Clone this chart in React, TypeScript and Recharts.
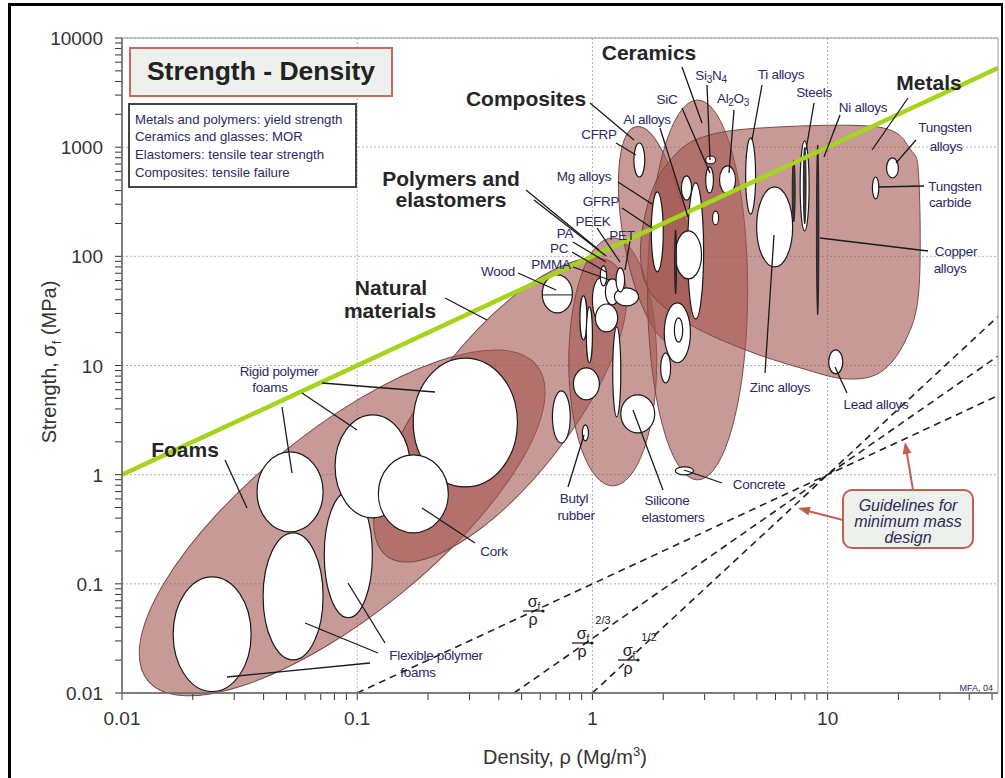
import React from 'react';
import { ScatterChart, Scatter, XAxis, YAxis, CartesianGrid, ReferenceArea, ReferenceLine } from 'recharts';

const FONT = '"Liberation Sans", Arial, Helvetica, sans-serif';

// ---------- axes ----------
const densityDomain: [number, number] = [0.01, 53];
const strengthDomain: [number, number] = [0.01, 10000];
const densityTicks = [0.01, 0.02, 0.03, 0.04, 0.05, 0.06, 0.07, 0.08, 0.09, 0.1, 0.2, 0.3, 0.4, 0.5, 0.6, 0.7, 0.8, 0.9, 1, 2, 3, 4, 5, 6, 7, 8, 9, 10, 20, 30, 40, 50];
const strengthTicks = [
  0.01, 0.02, 0.03, 0.04, 0.05, 0.06, 0.07, 0.08, 0.09,
  0.1, 0.2, 0.3, 0.4, 0.5, 0.6, 0.7, 0.8, 0.9,
  1, 2, 3, 4, 5, 6, 7, 8, 9,
  10, 20, 30, 40, 50, 60, 70, 80, 90,
  100, 200, 300, 400, 500, 600, 700, 800, 900,
  1000, 2000, 3000, 4000, 5000, 6000, 7000, 8000, 9000, 10000,
];
const densityGrid = [0.01, 0.1, 1, 10];
const strengthGrid = [0.01, 0.1, 1, 10, 100, 1000, 10000];
const densityTickLabels = ['0.01', '0.1', '1', '10'];
const strengthTickLabels = ['0.01', '0.1', '1', '10', '100', '1000', '10000'];

// ---------- family envelopes (centre density, centre strength, half-span in decades) ----------
const envelopeFamilies = ['Foams', 'Natural materials', 'Polymers and elastomers', 'Composites', 'Ceramics'];
const envelopeDensity = [0.0863, 0.406, 1.22, 1.85, 2.8];
const envelopeStrength = [0.362, 3.92, 10.8, 157, 49.2];
const envelopeDensitySpan = [1.064, 0.787, 0.187, 0.136, 0.213];
const envelopeStrengthSpan = [0.8425, 0.641, 1.136, 1.007, 1.74];
const envelopeTilt = [-39, -52, 0, -10, 0];

// metals envelope bounding box
const metalsDensity: [number, number] = [1.6, 24.9];
const metalsStrength: [number, number] = [7.38, 1565];

// ---------- material bubbles: density range (Mg/m3), strength range (MPa) ----------
type Mat = { name: string; rho: [number, number]; sigma: [number, number] };
const foamMaterials: Mat[] = [
  { name: 'Flexible polymer foam (VLD)', rho: [0.0165, 0.0354], sigma: [0.0103, 0.116] },
  { name: 'Flexible polymer foam (LD)', rho: [0.0398, 0.0716], sigma: [0.0201, 0.293] },
  { name: 'Flexible polymer foam (MD)', rho: [0.0724, 0.116], sigma: [0.0489, 0.695] },
  { name: 'Rigid polymer foam (LD)', rho: [0.0375, 0.0716], sigma: [0.299, 1.62] },
  { name: 'Rigid polymer foam (MD)', rho: [0.0805, 0.168], sigma: [0.402, 3.53] },
  { name: 'Rigid polymer foam (HD)', rho: [0.173, 0.48], sigma: [0.773, 11.7] },
];
const naturalMaterials: Mat[] = [
  { name: 'Cork', rho: [0.123, 0.244], sigma: [0.293, 1.52] },
  { name: 'Wood', rho: [0.612, 0.822], sigma: [30.3, 67.6] },
];
const polymerMaterials: Mat[] = [
  { name: 'PP', rho: [0.885, 0.948], sigma: [17.2, 43.4] },
  { name: 'PE', rho: [0.942, 1.0], sigma: [10.6, 34.4] },
  { name: 'EVA', rho: [0.83, 1.07], sigma: [4.84, 9.51] },
  { name: 'Isoprene', rho: [0.676, 0.805], sigma: [1.95, 5.85] },
  { name: 'Butyl rubber', rho: [0.906, 0.962], sigma: [2.04, 2.86] },
  { name: 'ABS', rho: [1.0, 1.17], sigma: [25.1, 63.4] },
  { name: 'PC', rho: [1.135, 1.3], sigma: [35.9, 62.1] },
  { name: 'PMMA', rho: [1.24, 1.57], sigma: [35.2, 51.4] },
  { name: 'PS', rho: [1.03, 1.28], sigma: [20.3, 36.6] },
  { name: 'PET', rho: [1.26, 1.37], sigma: [47.2, 78.3] },
  { name: 'PA', rho: [1.08, 1.15], sigma: [53.6, 81.7] },
  { name: 'Neoprene', rho: [1.22, 1.32], sigma: [3.38, 22.6] },
  { name: 'Silicone elastomers', rho: [1.32, 1.84], sigma: [2.41, 5.38] },
];
const compositeMaterials: Mat[] = [
  { name: 'CFRP', rho: [1.5, 1.67], sigma: [533, 1092] },
  { name: 'GFRP', rho: [1.78, 2.0], sigma: [72, 389] },
];
const ceramicMaterials: Mat[] = [
  { name: 'Glass ceramic', rho: [2.39, 2.64], sigma: [328, 545] },
  { name: 'SiC', rho: [3.03, 3.27], sigma: [381, 659] },
  { name: 'Si3N4', rho: [3.03, 3.34], sigma: [702, 830] },
  { name: 'Al2O3', rho: [3.47, 4.06], sigma: [373, 673] },
  { name: 'AlN', rho: [3.24, 3.44], sigma: [194, 260] },
  { name: 'Stone', rho: [2.02, 2.61], sigma: [10.6, 37.4] },
  { name: 'Brick', rho: [2.23, 2.42], sigma: [16.4, 27.3] },
  { name: 'Glass', rho: [1.95, 2.15], sigma: [6.93, 13.0] },
  { name: 'Concrete', rho: [2.25, 2.69], sigma: [0.995, 1.18] },
];
const metalMaterials: Mat[] = [
  { name: 'Al alloys', rho: [2.54, 2.97], sigma: [26.7, 470] },
  { name: 'Mg alloys', rho: [2.25, 2.91], sigma: [62.1, 171] },
  { name: 'Ti alloys', rho: [4.48, 4.94], sigma: [244, 1214] },
  { name: 'Zinc alloys', rho: [4.99, 7.1], sigma: [80, 432] },
  { name: 'Steels', rho: [7.64, 8.34], sigma: [171, 1140] },
  { name: 'Tungsten alloys', rho: [17.8, 20.0], sigma: [522, 797] },
  { name: 'Tungsten carbide', rho: [15.5, 16.5], sigma: [336, 533] },
  { name: 'Lead alloys', rho: [10.1, 11.6], sigma: [8.38, 13.9] },
];
const metalBars: Mat[] = [
  { name: 'Stainless steels', rho: [7.88, 8.1], sigma: [198, 1000] },
  { name: 'Cast irons', rho: [7.07, 7.28], sigma: [207, 764] },
  { name: 'Copper alloys', rho: [8.96, 9.18], sigma: [29, 1047] },
  { name: 'Glass (thin)', rho: [2.235, 2.28], sigma: [45.3, 175] },
];

// ---------- guide lines ----------
const specificStrengthLine = [{ x: 0.01, y: 1 }, { x: 53, y: 5300 }];
const guideLines = [
  [{ x: 0.1, y: 0.01 }, { x: 53, y: 5.3 }],
  [{ x: 0.464, y: 0.01 }, { x: 53, y: 12.2 }],
  [{ x: 1, y: 0.01 }, { x: 53, y: 28.1 }],
];

// ---------- styles ----------
const ENV_FILL = '#a45751';
const ENV_OPACITY = 0.6;
const ENV_STROKE = '#7a4a46';
const LABEL_COLOR = '#2b2a66';
const metalsOutline: [number, number][] = [
  [0.214, 0.047], [0.429, 0.008], [0.846, 0.004], [0.964, 0.094], [0.993, 0.213], [0.993, 0.646],
  [0.946, 0.843], [0.857, 0.969], [0.732, 0.996], [0.571, 0.953], [0.375, 0.882], [0.179, 0.783],
  [0.036, 0.657], [0.0, 0.488], [0.036, 0.272], [0.107, 0.134],
];

function closedSpline(pts: [number, number][]) {
  const n = pts.length;
  let d = `M${pts[0][0]},${pts[0][1]}`;
  for (let i = 0; i < n; i++) {
    const p0 = pts[(i - 1 + n) % n], p1 = pts[i], p2 = pts[(i + 1) % n], p3 = pts[(i + 2) % n];
    const c1x = p1[0] + (p2[0] - p0[0]) / 6, c1y = p1[1] + (p2[1] - p0[1]) / 6;
    const c2x = p2[0] - (p3[0] - p1[0]) / 6, c2y = p2[1] - (p3[1] - p1[1]) / 6;
    d += ` C${c1x},${c1y} ${c2x},${c2y} ${p2[0]},${p2[1]}`;
  }
  return d + 'Z';
}

const envelopeShape = (tilt: number) => (p: any) => {
  const { x, y, width, height } = p;
  const cx = x + width / 2, cy = y + height / 2;
  return (
    <ellipse cx={cx} cy={cy} rx={Math.abs(width) / 2} ry={Math.abs(height) / 2}
      transform={`rotate(${tilt} ${cx} ${cy})`} fill={ENV_FILL} fillOpacity={ENV_OPACITY}
      stroke={ENV_STROKE} strokeWidth={1} />
  );
};

const metalsShape = (p: any) => {
  const { x, y, width, height } = p;
  const pts = metalsOutline.map(([u, v]) => [x + u * width, y + v * height] as [number, number]);
  return <path d={closedSpline(pts)} fill={ENV_FILL} fillOpacity={ENV_OPACITY} stroke={ENV_STROKE} strokeWidth={1} />;
};

const bubbleShape = (split: boolean) => (p: any) => {
  const { x, y, width, height } = p;
  const cx = x + width / 2, cy = y + height / 2;
  const rx = Math.abs(width) / 2, ry = Math.abs(height) / 2;
  return (
    <g>
      <ellipse cx={cx} cy={cy} rx={rx} ry={ry} fill="#ffffff" stroke="#1a1a1a" strokeWidth={1.2} />
      {split && <line x1={cx - rx} y1={cy + 1} x2={cx + rx} y2={cy + 1} stroke="#1a1a1a" strokeWidth={1} />}
    </g>
  );
};

const barShape = (p: any) => {
  const { x, y, width, height } = p;
  const cx = x + width / 2, cy = y + height / 2;
  return <ellipse cx={cx} cy={cy} rx={Math.abs(width) / 2} ry={Math.abs(height) / 2} fill="#3a3a3a" stroke="#111" strokeWidth={0.8} />;
};

function labelFor(v: number, grid: number[], labels: string[]) {
  const i = grid.findIndex((g) => Math.abs(v / g - 1) < 1e-6);
  return i >= 0 ? labels[i] : null;
}

const XTick = (props: any) => {
  const { x, y, payload } = props;
  const t = labelFor(payload.value, densityGrid, densityTickLabels);
  if (!t) return <g />;
  return <text x={x} y={y + 14} textAnchor="middle" fontSize={19} fill="#333" fontFamily={FONT}>{t}</text>;
};
const YTick = (props: any) => {
  const { x, y, payload } = props;
  const t = labelFor(payload.value, strengthGrid, strengthTickLabels);
  if (!t) return <g />;
  return <text x={x} y={y + 7} textAnchor="end" fontSize={19} fill="#333" fontFamily={FONT}>{t}</text>;
};

// ---------- annotations (pixel layout) ----------
const leaders: number[][] = [
  [225, 460, 247, 508], [445, 298, 487, 320],
  [282, 407, 292, 473], [302, 393, 357, 430], [322, 383, 435, 392],
  [475, 543, 422, 508],
  [385, 643, 348, 583], [378, 653, 305, 623], [370, 663, 227, 677],
  [518, 273, 556, 290], [573, 267, 610, 280], [572, 252, 606, 272], [573, 242, 606, 262],
  [597, 228, 620, 262], [630, 241, 625, 270], [622, 208, 652, 228], [618, 182, 652, 204],
  [616, 143, 636, 155], [660, 128, 688, 217], [590, 103, 634, 140],
  [526, 190, 599, 250], [534, 200, 606, 256],
  [682, 67, 702, 123], [707, 85, 710, 160], [682, 108, 710, 173], [734, 110, 729, 173],
  [762, 85, 752, 140], [814, 103, 806, 150], [840, 115, 824, 157], [908, 98, 872, 150],
  [916, 140, 896, 163], [924, 186, 878, 187], [928, 251, 820, 238],
  [765, 373, 774, 235], [847, 393, 835, 367], [722, 483, 684, 470],
  [663, 490, 633, 410], [568, 487, 584, 435],
];

const familyLabels: [string, number, number][] = [
  ['Ceramics', 649, 60], ['Composites', 526, 106], ['Metals', 929, 90],
  ['Polymers and', 451, 186], ['elastomers', 451, 207],
  ['Natural', 391, 295], ['materials', 390, 318], ['Foams', 185, 457],
];

const materialLabels: [string, number, number][] = [
  ['Ti alloys', 781, 79], ['SiC', 667, 104], ['Steels', 814, 97], ['Ni alloys', 863, 112],
  ['Al alloys', 647, 124], ['CFRP', 599, 139], ['Mg alloys', 584, 181], ['GFRP', 601, 206],
  ['PEEK', 593, 226], ['PA', 565, 238], ['PET', 622, 240], ['PC', 559, 253], ['PMMA', 551, 269],
  ['Wood', 498, 276], ['Tungsten', 945, 132], ['alloys', 946, 151], ['Tungsten', 955, 191],
  ['carbide', 950, 207], ['Copper', 956, 256], ['alloys', 950, 273], ['Zinc alloys', 780, 392],
  ['Lead alloys', 876, 409], ['Concrete', 759, 489], ['Butyl', 574, 503], ['rubber', 576, 520],
  ['Silicone', 667, 505], ['elastomers', 673, 522], ['Cork', 494, 556],
  ['Rigid polymer', 279, 376], ['foams', 270, 392], ['Flexible polymer', 436, 660], ['foams', 418, 677],
];

function arrowHead(x1: number, y1: number, x2: number, y2: number, len = 12, half = 4.5) {
  const dx = x2 - x1, dy = y2 - y1;
  const L = Math.hypot(dx, dy);
  const ux = dx / L, uy = dy / L;
  const bx = x2 - ux * len, by = y2 - uy * len;
  const px = -uy * half, py = ux * half;
  return `${x2},${y2} ${bx + px},${by + py} ${bx - px},${by - py}`;
}

const Fraction = ({ x, y, exp }: { x: number; y: number; exp?: string }) => (
  <g fontFamily={FONT} fill="#222">
    <text x={x} y={y} fontSize={16} textAnchor="middle">σ<tspan fontSize={10} dy={3}>f</tspan></text>
    <line x1={x - 11} y1={y + 4} x2={x + 10} y2={y + 4} stroke="#222" strokeWidth={1.3} />
    <circle cx={x + 9} cy={y + 4} r={1.6} fill="#222" />
    <text x={x - 1} y={y + 18} fontSize={16} textAnchor="middle">ρ</text>
    {exp && <text x={x + 20} y={y - 15} fontSize={11} textAnchor="middle">{exp}</text>}
  </g>
);

const Overlay = () => (
  <svg width={1005} height={778} style={{ position: 'absolute', left: 0, top: 0, pointerEvents: 'none' }}>
    <rect x={122} y={38} width={876} height={655} fill="none" stroke="#9a9a9a" strokeWidth={1} />
    <rect x={130} y={48} width={262} height={48} fill="#eef0ee" stroke="#c46a60" strokeWidth={2} />
    <text x={261} y={80} textAnchor="middle" fontSize={26.5} fontWeight="bold" fill="#222" fontFamily={FONT}>Strength - Density</text>
    <rect x={129} y={104} width={227} height={83} fill="#ffffff" stroke="#444" strokeWidth={2} />
    <g fontFamily={FONT} fontSize={13.2} fill={LABEL_COLOR}>
      <text x={135} y={124}>Metals and polymers: yield strength</text>
      <text x={135} y={141}>Ceramics and glasses: MOR</text>
      <text x={135} y={159}>Elastomers: tensile tear strength</text>
      <text x={135} y={177}>Composites: tensile failure</text>
    </g>
    <g stroke="#1a1a1a" strokeWidth={1.3}>
      {leaders.map((l, i) => <line key={i} x1={l[0]} y1={l[1]} x2={l[2]} y2={l[3]} />)}
    </g>
    <g fontFamily={FONT} fontSize={21} fontWeight="bold" fill="#262626" textAnchor="middle">
      {familyLabels.map(([t, x, y], i) => <text key={i} x={x} y={y}>{t}</text>)}
    </g>
    <g fontFamily={FONT} fontSize={13.5} fill={LABEL_COLOR} textAnchor="middle" letterSpacing={-0.3}>
      {materialLabels.map(([t, x, y], i) => <text key={i} x={x} y={y}>{t}</text>)}
      <text x={711} y={80}>Si<tspan fontSize={10} dy={3}>3</tspan><tspan dy={-3}>N</tspan><tspan fontSize={10} dy={3}>4</tspan></text>
      <text x={733} y={103}>Al<tspan fontSize={10} dy={3}>2</tspan><tspan dy={-3}>O</tspan><tspan fontSize={10} dy={3}>3</tspan></text>
    </g>
    <Fraction x={534} y={607} />
    <Fraction x={583} y={639} exp="2/3" />
    <Fraction x={629} y={656} exp="1/2" />
    <g stroke="#c0604f" strokeWidth={2} fill="#c0604f">
      <line x1={913} y1={490} x2={906} y2={448} />
      <polygon points={arrowHead(913, 490, 905, 442)} stroke="none" />
      <line x1={843} y1={520} x2={804} y2={510} />
      <polygon points={arrowHead(843, 520, 798, 508)} stroke="none" />
    </g>
    <rect x={843} y={490} width={130} height={58} rx={9} fill="#eef0ee" stroke="#c0604f" strokeWidth={2} />
    <g fontFamily={FONT} fontSize={16} fontStyle="italic" fill="#2b2a55" textAnchor="middle">
      <text x={908} y={511}>Guidelines for</text>
      <text x={908} y={527}>minimum mass</text>
      <text x={908} y={543}>design</text>
    </g>
    <text x={993} y={691} textAnchor="end" fontSize={9} fill={LABEL_COLOR} fontFamily={FONT}>MFA, 04</text>
    <text x={565} y={764} textAnchor="middle" fontSize={20} fill="#333" fontFamily={FONT}>
      Density, ρ  (Mg/m<tspan fontSize={13} dy={-8}>3</tspan><tspan dy={8}>)</tspan>
    </text>
    <text x={56} y={362} transform="rotate(-90 56 362)" textAnchor="middle" fontSize={20} fill="#333" fontFamily={FONT}>
      Strength, σ<tspan fontSize={13} dy={5}>f</tspan><tspan dy={-5}>  (MPa)</tspan>
    </text>
  </svg>
);

const allBubbles: Mat[] = [...foamMaterials, ...naturalMaterials, ...polymerMaterials, ...compositeMaterials, ...ceramicMaterials, ...metalMaterials];
const centres = allBubbles.map((m) => ({ rho: Math.sqrt(m.rho[0] * m.rho[1]), sigma: Math.sqrt(m.sigma[0] * m.sigma[1]) }));

export default function App() {
  return (
    <div style={{ position: 'absolute', left: 0, top: 0, width: 1005, height: 778, background: '#fff', overflow: 'hidden' }}>
      <div style={{ position: 'absolute', left: 8, top: 3, width: 995, height: 790, boxSizing: 'border-box', borderLeft: '3px solid #000', borderTop: '3px solid #000', borderRight: '2px solid #000' }} />
      <div style={{ position: 'absolute', left: 0, top: 0 }}>
        <ScatterChart width={1005} height={778} margin={{ top: 38, right: 7, left: 62, bottom: 55 }}>
          <CartesianGrid horizontalValues={strengthGrid} verticalValues={densityGrid} stroke="#b0b0b0" strokeDasharray="2 2" />
          <XAxis dataKey="rho" type="number" scale="log" domain={densityDomain} ticks={densityTicks} interval={0}
            allowDataOverflow height={30} tickSize={7} tickMargin={11} tick={<XTick />}
            axisLine={{ stroke: '#333', strokeWidth: 1.5 }} tickLine={{ stroke: '#333' }} />
          <YAxis dataKey="sigma" type="number" scale="log" domain={strengthDomain} ticks={strengthTicks} interval={0}
            allowDataOverflow width={60} tickSize={7} tickMargin={12} tick={<YTick />}
            axisLine={{ stroke: '#333', strokeWidth: 1.5 }} tickLine={{ stroke: '#333' }} />
          {envelopeFamilies.map((f, i) => (
            <ReferenceArea key={f}
              x1={envelopeDensity[i] / Math.pow(10, envelopeDensitySpan[i])}
              x2={envelopeDensity[i] * Math.pow(10, envelopeDensitySpan[i])}
              y1={envelopeStrength[i] / Math.pow(10, envelopeStrengthSpan[i])}
              y2={envelopeStrength[i] * Math.pow(10, envelopeStrengthSpan[i])}
              ifOverflow="hidden" shape={envelopeShape(envelopeTilt[i])} />
          ))}
          <ReferenceArea x1={metalsDensity[0]} x2={metalsDensity[1]} y1={metalsStrength[0]} y2={metalsStrength[1]}
            ifOverflow="hidden" shape={metalsShape} />
          {allBubbles.map((m, i) => (
            <ReferenceArea key={'b' + i} x1={m.rho[0]} x2={m.rho[1]} y1={m.sigma[0]} y2={m.sigma[1]}
              ifOverflow="visible" shape={bubbleShape(m.name === 'Wood')} />
          ))}
          {metalBars.map((m, i) => (
            <ReferenceArea key={'d' + i} x1={m.rho[0]} x2={m.rho[1]} y1={m.sigma[0]} y2={m.sigma[1]}
              ifOverflow="visible" shape={barShape} />
          ))}
          {guideLines.map((seg, i) => (
            <ReferenceLine key={'g' + i} segment={seg} ifOverflow="hidden" stroke="#222" strokeWidth={1.6} strokeDasharray="7 5" />
          ))}
          <ReferenceLine segment={specificStrengthLine} ifOverflow="hidden" stroke="#a4d41c" strokeWidth={4.5} />
          <Scatter data={centres} isAnimationActive={false} shape={() => <g />} />
        </ScatterChart>
      </div>
      <Overlay />
    </div>
  );
}
